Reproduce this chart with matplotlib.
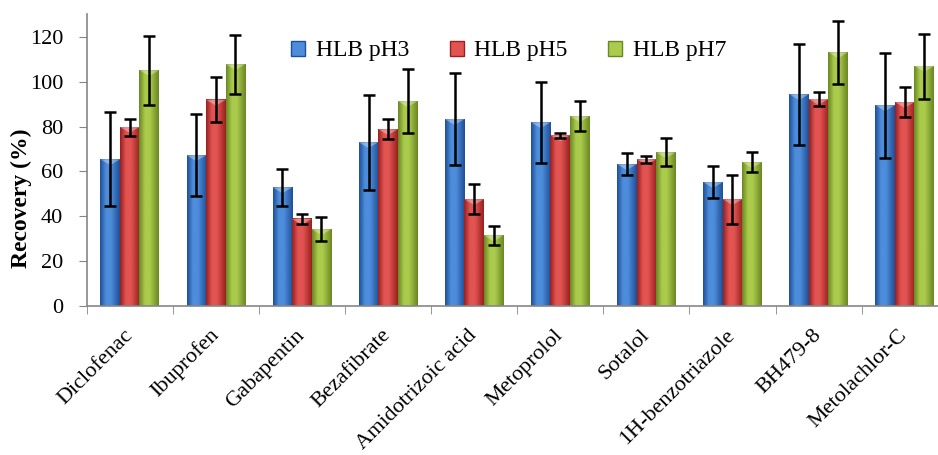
import numpy as np
import matplotlib.pyplot as plt
from matplotlib.colors import LinearSegmentedColormap
from matplotlib.patches import Patch, Polygon

compounds = ["Diclofenac", "Ibuprofen", "Gabapentin", "Bezafibrate", "Amidotrizoic acid",
             "Metoprolol", "Sotalol", "1H-benzotriazole", "BH479-8", "Metolachlor-C"]
series = ["HLB pH3", "HLB pH5", "HLB pH7"]

ph3 = [65.4, 67.2, 52.9, 73.0, 83.3, 81.9, 63.2, 55.2, 94.4, 89.5]
ph3_err = [21.0, 18.2, 8.1, 21.1, 20.5, 18.1, 5.0, 7.2, 22.6, 23.3]
ph5 = [79.8, 91.9, 38.8, 78.8, 47.6, 76.1, 65.4, 47.6, 92.3, 90.9]
ph5_err = [3.8, 10.0, 2.4, 4.5, 6.6, 1.2, 1.5, 11.0, 3.3, 6.6]
ph7 = [105.1, 107.8, 34.2, 91.3, 31.5, 84.6, 68.5, 64.1, 113.1, 107.0]
ph7_err = [15.5, 13.1, 5.4, 14.3, 4.2, 6.7, 6.2, 4.4, 14.0, 14.5]

# (dark edge, light highlight)
shades = [("#1f4f96", "#4d8ddb"), ("#98201f", "#e25452"), ("#6a8722", "#aacb4c")]

plt.rcParams['font.family'] = ['Liberation Serif', 'DejaVu Serif']

fig = plt.figure(figsize=(9.38, 4.55), dpi=100)
ax = fig.add_axes([0.0924, 0.3275, 0.918, 0.6407])

x = np.arange(len(compounds))
w = 0.227
grad = np.linspace(0, 1, 64).reshape(1, -1)
for i, (vals, errs) in enumerate(zip([ph3, ph5, ph7], [ph3_err, ph5_err, ph7_err])):
    dark, light = shades[i]
    cmap = LinearSegmentedColormap.from_list("g%d" % i, [(0, dark), (0.3, light), (0.55, light), (1, dark)])
    bars = ax.bar(x + (i - 1) * w, vals, w, color=light, zorder=2, label=series[i])
    for b in bars:
        bx, bw, bh = b.get_x(), b.get_width(), b.get_height()
        ax.imshow(grad, extent=[bx, bx + bw, 0, bh], aspect='auto', cmap=cmap, zorder=2.1,
                  interpolation='bilinear')
        tri = Polygon([[bx, bh], [bx + bw, bh], [bx + bw / 2, bh - 2.6]], closed=True,
                      facecolor='white', alpha=0.35, edgecolor='none', zorder=2.2)
        ax.add_patch(tri)
    ax.errorbar(x + (i - 1) * w, vals, yerr=errs, fmt='none', ecolor='black',
                elinewidth=1.8, capsize=4, capthick=1.8, zorder=3)

ax.set_xlim(-0.5, len(compounds) - 0.5)
ax.set_ylim(0, 130)
ax.set_yticks(np.arange(0, 121, 20))
ax.tick_params(axis='y', labelsize=16, length=6, color='#868686', pad=11)
ax.set_xticks(x)
ax.set_xticklabels(compounds, rotation=45, ha='right', va='center', rotation_mode='anchor', fontsize=16)
ax.tick_params(axis='x', which='major', length=0, pad=19)
ax.set_xticks(np.arange(-0.5, len(compounds), 1), minor=True)
ax.tick_params(axis='x', which='minor', length=6, color='#868686')
for s in ['top', 'right']:
    ax.spines[s].set_visible(False)
for s in ['left', 'bottom']:
    ax.spines[s].set_color('#868686')
    ax.spines[s].set_linewidth(1.2)

ax.set_ylabel("Recovery (%)", fontsize=17, fontweight='bold')
ax.yaxis.set_label_coords(-0.064, 0.37)

handles = [Patch(facecolor=shades[i][1], edgecolor=shades[i][0]) for i in range(3)]
ax.legend(handles, series, loc='center', bbox_to_anchor=(0.49, 0.875), ncol=3, frameon=False,
          fontsize=17, handlelength=0.6, handleheight=0.6, handletextpad=0.45, columnspacing=1.7)

fig.savefig("out.png", dpi=100)
